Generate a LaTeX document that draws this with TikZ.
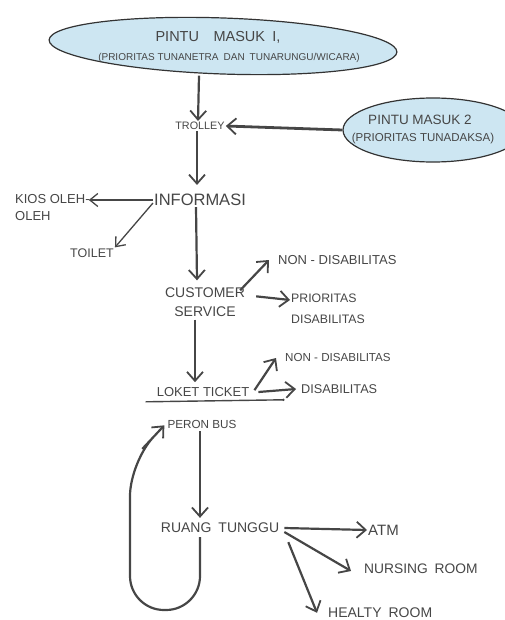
\documentclass[tikz,border=0pt]{standalone}
\usepackage{fontspec}
\setmainfont{Liberation Sans}
\usepackage{xcolor}
\usetikzlibrary{shapes.geometric, arrows.meta, positioning, calc}

\definecolor{inkgray}{RGB}{70,70,70}
\definecolor{waterblue}{RGB}{205,230,242}

\begin{document}
\begin{tikzpicture}[
    x=1pt, y=-1pt,
    place/.style={inner sep=1pt, text=inkgray, font=\fontsize{14}{16}\selectfont, align=center},
    small/.style={inner sep=1pt, text=inkgray, font=\fontsize{12.5}{17}\selectfont, align=left},
    gate/.style={ellipse, draw=black!80, line width=1.2pt, fill=waterblue},
    arrow/.style={-{Straight Barb[length=9pt, width=16pt, line width=1.8pt]}, line width=2.2pt, draw=inkgray},
    thin arrow/.style={-{Straight Barb[length=8pt, width=13pt, line width=1.3pt]}, line width=1.3pt, draw=inkgray}
]
\useasboundingbox (0,0) rectangle (504,620);

% Entrances
\node[gate, minimum width=348pt, minimum height=56pt, rotate=-2] (masuk1) at (223,46) {};
\node[place, font=\fontsize{14.5}{16}\selectfont] (masuk1a) at (218,37) {PINTU\quad MASUK\enspace I,};
\node[place, font=\fontsize{10}{12}\selectfont] (masuk1b) at (229,58) {(PRIORITAS TUNANETRA\enspace DAN\enspace TUNARUNGU/WICARA)};

\node[gate, minimum width=180pt, minimum height=64pt] (masuk2) at (433,130) {};
\node[place, font=\fontsize{13.5}{15}\selectfont] (masuk2a) at (420,120) {PINTU MASUK 2};
\node[place, font=\fontsize{11.5}{13}\selectfont] (masuk2b) at (423,139) {(PRIORITAS TUNADAKSA)};

% Main route
\node[place, font=\fontsize{10.8}{12}\selectfont] (trolley) at (200,126) {TROLLEY};
\node[place, font=\fontsize{16.5}{18}\selectfont] (info) at (200,200) {INFORMASI};
\node[place, font=\fontsize{14}{19}\selectfont] (cs) at (205,302) {CUSTOMER\\SERVICE};
\node[place, font=\fontsize{13}{15}\selectfont] (loket) at (203,392) {LOKET TICKET};
\node[place, font=\fontsize{11.7}{13}\selectfont] (peron) at (202,424) {PERON BUS};
\node[place, font=\fontsize{14}{16}\selectfont] (ruang) at (220,528) {RUANG\enspace TUNGGU};

% Side places
\node[small, font=\fontsize{13}{17}\selectfont, anchor=west] (kios) at (14,208) {KIOS OLEH-\\OLEH};
\node[small] (toilet) at (92,253) {TOILET};
\node[small, font=\fontsize{13}{15}\selectfont, anchor=west] (nondis1) at (277,260) {NON - DISABILITAS};
\node[small, font=\fontsize{12.3}{21}\selectfont, anchor=west] (prior) at (290,309) {PRIORITAS\\DISABILITAS};
\node[small, font=\fontsize{11.6}{14}\selectfont, anchor=west] (nondis2) at (284,358) {NON - DISABILITAS};
\node[small, font=\fontsize{12.7}{14}\selectfont, anchor=west] (dis) at (300,389) {DISABILITAS};
\node[small, font=\fontsize{15}{17}\selectfont, anchor=west] (atm) at (367,530) {ATM};
\node[small, font=\fontsize{13.8}{16}\selectfont, anchor=west] (nursing) at (363,569) {NURSING\enspace ROOM};
\node[small, font=\fontsize{14}{16}\selectfont, anchor=west] (healty) at (327,613) {HEALTY\enspace ROOM};

% Underline between ticket and peron
\draw[inkgray, line width=1.4pt] ([xshift=-10pt, yshift=-4pt]loket.south west) -- ([xshift=33pt, yshift=-2pt]loket.south east) node[circle, fill=inkgray, inner sep=0.9pt] (dot) {};

% Arrows along the route
\draw[arrow] ([xshift=-23pt, yshift=-1pt]masuk1.south) -- ([xshift=-2pt]trolley.north);
\draw[arrow, line width=2.8pt] (masuk2.west) -- (trolley.east);
\draw[arrow] ([xshift=-3pt]trolley.south) -- ([xshift=-3pt, yshift=8pt]info.north);
\draw[thin arrow] (info.west) -- ([xshift=-2pt]kios.north east |- info.west);
\draw[thin arrow] ([yshift=-3pt]info.west) -- (toilet.north east);
\draw[arrow] ([xshift=-4pt]info.south) -- ([xshift=-8pt, yshift=6pt]cs.north);
\draw[arrow] ([xshift=-6pt, yshift=-4pt]cs.north east) -- ([xshift=-8pt]nondis1.west);
\draw[arrow] ([xshift=10pt, yshift=-10pt]cs.north east) -- ([yshift=9pt]prior.west);
\draw[arrow] ([xshift=-10pt, yshift=-2pt]cs.south) -- ([xshift=-8pt, yshift=4pt]loket.north);
\draw[arrow] ([xshift=4pt, yshift=-4pt]loket.north east) -- ([xshift=-8pt]nondis2.west);
\draw[arrow] ([xshift=8pt]loket.east) -- ([xshift=-4pt]dis.west);
\draw[arrow] ([xshift=-2pt, yshift=-2pt]peron.south) -- ([xshift=-20pt, yshift=4pt]ruang.north);
\draw[arrow] ([xshift=4pt]ruang.east) -- (atm.west);
\draw[arrow] ([xshift=4pt, yshift=-4pt]ruang.east) -- ([xshift=-12pt, yshift=-2pt]nursing.west);
\draw[arrow] ([xshift=8pt, yshift=-8pt]ruang.south east) -- ([xshift=-10pt, yshift=-6pt]healty.north west);

% Loop back from waiting room to bus platform
\draw[arrow, rounded corners=34pt] ([xshift=-20pt, yshift=-3pt]ruang.south) -- (200,610) -- (130,610) -- (130,462) [rounded corners=4pt] -- (145,446) [sharp corners] -- ([xshift=-2pt, yshift=4pt]peron.south west);
\end{tikzpicture}
\end{document}
